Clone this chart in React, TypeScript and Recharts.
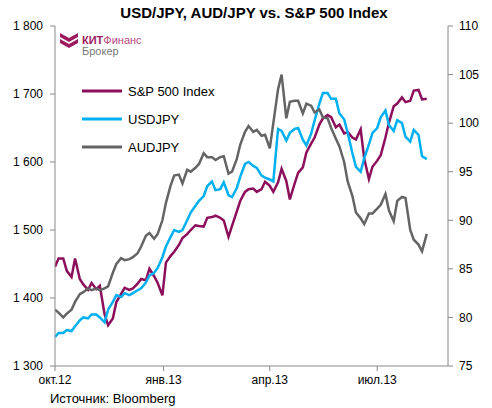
import React from 'react';
import { LineChart, Line, XAxis, YAxis } from 'recharts';

// days since 1 Oct 2012
const days = [
  0, 3, 7, 10, 14, 17, 21, 24, 28, 31,
  35, 38, 42, 45, 49, 52, 56, 59, 63, 66,
  70, 73, 77, 80, 84, 87, 91, 94, 98, 101,
  105, 108, 112, 115, 119, 122, 126, 129, 133, 136,
  140, 143, 147, 150, 154, 157, 161, 164, 168, 171,
  175, 178, 182, 185, 189, 192, 196, 199, 203, 206,
  210, 213, 217, 220, 224, 227, 231, 234, 238, 241,
  245, 248, 252, 255, 259, 262, 266, 269, 273, 276,
  280, 283, 287, 290, 294, 297, 301, 304, 308, 311,
  315,
];

const spx = [
  1446, 1458, 1458, 1440, 1431, 1458, 1428, 1420, 1412, 1422,
  1413, 1418, 1376, 1360, 1370, 1394, 1406, 1415, 1412, 1414,
  1421, 1428, 1426, 1443, 1432, 1422, 1404, 1452, 1462, 1468,
  1478, 1488, 1494, 1500, 1507, 1506, 1505, 1518, 1519, 1521,
  1518, 1514, 1490, 1506, 1527, 1543, 1556, 1560, 1561, 1556,
  1560, 1571, 1565, 1556, 1570, 1590, 1572, 1545, 1568, 1584,
  1592, 1614, 1627, 1636, 1655, 1664, 1669, 1666, 1651, 1655,
  1642, 1644, 1636, 1633, 1648, 1605, 1575, 1593, 1602, 1610,
  1636, 1658, 1682, 1686, 1695, 1688, 1690, 1705, 1706, 1692,
  1693,
];

const usdjpy = [
  78.0, 78.4, 78.4, 78.7, 78.6, 79.1, 79.7, 80.0, 79.9, 80.3,
  80.3, 80.0, 79.5, 80.8, 81.6, 82.3, 82.1, 82.5, 82.3, 82.5,
  82.8, 83.0, 83.6, 84.3, 84.6, 85.1, 86.2, 87.3, 88.3, 89.0,
  88.8, 89.0, 90.0, 90.8, 91.5, 92.0, 92.5, 93.5, 94.0, 93.1,
  93.2, 93.9, 92.6, 92.4, 93.3, 94.5, 95.8, 96.0, 95.6, 95.4,
  94.6, 94.4, 94.2, 94.0, 99.4, 99.2, 98.2, 99.0, 99.4, 99.5,
  98.3, 97.7, 98.9, 100.3, 102.0, 103.1, 103.1, 102.5, 102.5, 101.0,
  100.4, 99.0, 96.9, 95.5, 95.0, 96.4, 97.8, 99.0, 99.5, 100.6,
  101.3, 99.8, 99.2, 100.3, 100.0, 98.6, 98.1, 99.3, 98.8, 96.6,
  96.3,
];

const audjpy = [
  80.8, 80.5, 80.0, 80.4, 80.8, 81.6, 82.4, 82.6, 83.0, 82.8,
  83.0, 82.8, 83.0, 83.2, 84.6, 85.5, 86.1, 85.9, 86.0, 86.2,
  86.6, 87.3, 88.4, 88.7, 88.1, 88.6, 90.0, 91.8, 93.6, 94.6,
  94.7, 93.8, 95.2, 95.0, 95.4, 95.8, 96.9, 96.5, 96.5, 96.2,
  96.5, 96.6, 94.8, 95.0, 96.3, 97.8, 99.1, 99.7, 99.1, 99.3,
  98.7, 98.8, 97.4, 100.0, 103.5, 105.0, 100.5, 102.2, 102.3, 102.3,
  101.0, 102.0, 101.8, 101.1, 101.4, 100.6, 100.5, 99.5, 98.4, 97.6,
  96.0, 94.0, 92.5, 90.8, 90.2, 89.6, 90.7, 90.7, 91.2, 91.6,
  92.7, 91.0, 89.9, 92.0, 92.4, 92.3, 89.0, 88.0, 87.5, 86.8,
  88.6,
];

const monthTicks = [0, 92, 182, 273];
const monthLabels = ['окт.12', 'янв.13', 'апр.13', 'июл.13'];
const leftTicks = [1300, 1400, 1500, 1600, 1700, 1800];
const rightTicks = [75, 80, 85, 90, 95, 100, 105, 110];

const seriesNames = ['S&P 500 Index', 'USDJPY', 'AUDJPY'];
const colors = ['#8c0f5c', '#00b0f0', '#646464'];

const data = days.map((d, i) => ({
  day: d,
  spx: spx[i],
  usdjpy: usdjpy[i],
  audjpy: audjpy[i],
}));

const font = '"Liberation Sans", Arial, sans-serif';
const narrow = '"Liberation Sans Narrow", "Liberation Sans", Arial, sans-serif';
const axisColor = '#888888';
const tickStyle = { fontSize: 12, fill: '#000', fontFamily: font };

const fmtThousands = (v: number) => {
  const s = String(v);
  return s.length > 3 ? s.slice(0, s.length - 3) + ' ' + s.slice(-3) : s;
};

export default function App() {
  return (
    <div
      style={{
        position: 'absolute',
        left: 0,
        top: 0,
        width: 492,
        height: 408,
        background: '#fff',
        fontFamily: font,
      }}
    >
      <LineChart
        width={492}
        height={408}
        data={data}
        margin={{ top: 26, right: 0, bottom: 0, left: 0 }}
      >
        <XAxis
          dataKey="day"
          type="number"
          domain={[0, 333]}
          ticks={monthTicks}
          tickFormatter={(v: number) => monthLabels[monthTicks.indexOf(v)] ?? ''}
          height={42}
          stroke={axisColor}
          tickSize={5}
          tickMargin={4}
          tick={tickStyle}
          allowDataOverflow
        />
        <YAxis
          yAxisId="left"
          domain={[1300, 1800]}
          ticks={leftTicks}
          tickFormatter={fmtThousands}
          width={55}
          stroke={axisColor}
          tickSize={5}
          tickMargin={7}
          tick={tickStyle}
          allowDataOverflow
        />
        <YAxis
          yAxisId="right"
          orientation="right"
          domain={[75, 110]}
          ticks={rightTicks}
          width={44}
          stroke={axisColor}
          tickSize={5}
          tickMargin={6}
          tick={tickStyle}
          allowDataOverflow
        />
        <Line
          yAxisId="left"
          dataKey="spx"
          name={seriesNames[0]}
          stroke={colors[0]}
          strokeWidth={2.5}
          dot={false}
          type="linear"
          isAnimationActive={false}
        />
        <Line
          yAxisId="right"
          dataKey="usdjpy"
          name={seriesNames[1]}
          stroke={colors[1]}
          strokeWidth={2.5}
          dot={false}
          type="linear"
          isAnimationActive={false}
        />
        <Line
          yAxisId="right"
          dataKey="audjpy"
          name={seriesNames[2]}
          stroke={colors[2]}
          strokeWidth={2.5}
          dot={false}
          type="linear"
          isAnimationActive={false}
        />
      </LineChart>

      <svg
        width={492}
        height={408}
        style={{ position: 'absolute', left: 0, top: 0, pointerEvents: 'none' }}
      >
        <text
          x={254}
          y={18}
          textAnchor="middle"
          fontSize={15}
          fontWeight="bold"
          fontFamily={font}
          fill="#000"
        >
          USD/JPY, AUD/JPY vs. S&amp;P 500 Index
        </text>

        {/* logo */}
        <polygon points="60,33 69,38 78,33 78,37 69,42 60,37" fill="#9b1b5f" />
        <polygon points="60,39 69,44 78,39 78,43 69,48 60,43" fill="#9b1b5f" />
        <text x={82} y={44} fontSize={11} fontFamily={narrow}>
          <tspan fontWeight="bold" fill="#9b1b5f">КИТ</tspan>
          <tspan fill="#b8477f">Финанс</tspan>
        </text>
        <text x={82} y={55} fontSize={11} fill="#777" fontFamily={narrow}>
          Брокер
        </text>

        {/* legend */}
        {seriesNames.map((name, i) => (
          <g key={name} transform={`translate(82, ${91 + i * 28})`}>
            <line x1={0} x2={40} y1={0} y2={0} stroke={colors[i]} strokeWidth={3} />
            <text x={46} y={5} fontSize={13} fontFamily={font} fill="#000">
              {name}
            </text>
          </g>
        ))}

        <text x={50} y={403} fontSize={13} fontFamily={font} fill="#000">
          Источник: Bloomberg
        </text>
      </svg>
    </div>
  );
}
